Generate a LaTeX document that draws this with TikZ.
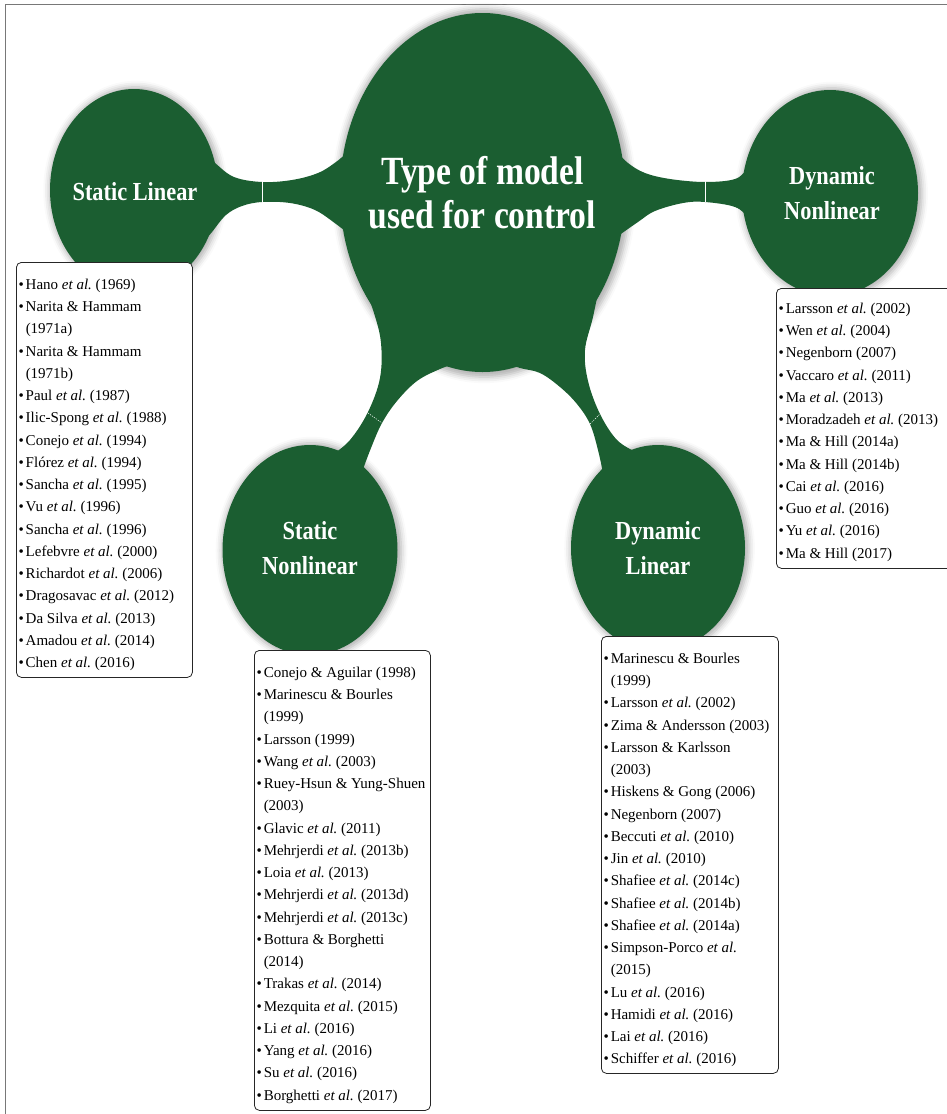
\documentclass[tikz,border=0pt]{standalone}
\usepackage{fontspec}
\setmainfont{Liberation Serif}
\newfontfamily\labelfont{Liberation Serif}[FakeStretch=0.86]
\newfontfamily\titlefont{Liberation Serif}[FakeStretch=0.84]
\usetikzlibrary{shapes.geometric,shadows.blur}
\definecolor{mygreen}{RGB}{27,94,49}
\definecolor{framegray}{RGB}{120,120,120}
\newcommand{\itemdot}{\strut\textbullet\hspace{1.8pt}}
\newcommand{\itemcont}{\strut\hphantom{\textbullet}\hspace{1.8pt}}
\frenchspacing
\tikzset{
  bubble/.style={ellipse, fill=mygreen, inner sep=0pt, text=white, align=center,
    blur shadow={shadow xshift=1.5pt, shadow yshift=-0.5pt, shadow blur radius=6pt, shadow opacity=32, shadow scale=1.025}},
  smalllabel/.style={font=\labelfont\bfseries\fontsize{26}{34.5}\selectfont},
  neck/.style={fill=mygreen},
  sep/.style={draw=white, line width=0.6pt},
  dsep/.style={draw=white, line width=0.5pt, dash pattern=on 1.2pt off 1.2pt},
  listbox/.style={draw=black!85, line width=0.8pt, rounded corners=5pt, fill=white, inner sep=0pt, anchor=north west},
  listtext/.style={anchor=north west, inner sep=0pt, align=left, font=\fontsize{15}{22.25}\selectfont},
}
\begin{document}
\begin{tikzpicture}[x=1pt, y=-1pt]
\useasboundingbox (0,0) rectangle (947,1114);
% frame
\draw[framegray, line width=0.8pt] (950,4) -- (5,4) -- (5,1120);

% bubbles
\node[bubble, minimum width=285pt, minimum height=359pt] (center) at (482.5,192.5) {};
\node[bubble, smalllabel, minimum width=168pt, minimum height=202pt] (sl) at (134,190) {};
\node[bubble, smalllabel, minimum width=176pt, minimum height=206pt] (dn) at (830,193) {};
\node[bubble, smalllabel, minimum width=175pt, minimum height=210pt] (sn) at (310,550) {};
\node[bubble, smalllabel, minimum width=174pt, minimum height=206pt] (dl) at (658,548) {};

% necks
\fill[neck] plot[smooth, tension=0.6] coordinates {(200,150) (215,163) (234,177) (262,182) (292,180) (318,173) (336,162) (350,150)}
  -- (365,195)
  -- plot[smooth, tension=0.6] coordinates {(350,235) (336,224) (315,210) (290,203) (262,202) (242,206) (226,215) (212,232) (205,240)}
  -- (190,195) -- cycle;
\fill[neck] plot[smooth, tension=0.6] coordinates {(615,150) (628,163) (645,173) (670,179) (705,182) (735,179) (748,168) (760,155)}
  -- (770,193)
  -- plot[smooth, tension=0.6] coordinates {(760,235) (748,218) (735,207) (705,202) (683,203) (655,211) (638,222) (618,236)}
  -- (605,193) -- cycle;
\fill[neck] plot[smooth, tension=0.6] coordinates {(362,280) (374,313) (381,343) (380,378) (368,412) (350,440) (332,455)}
  -- (320,480)
  -- plot[smooth, tension=0.6] coordinates {(362,472) (371,448) (382,423) (397,401) (417,381) (440,369) (460,362)}
  -- (400,320) -- cycle;
\fill[neck] plot[smooth, tension=0.6] coordinates {(505,362) (520,368) (540,373) (560,387) (577,404) (590,424) (598,450) (604,478)}
  -- (650,480)
  -- plot[smooth, tension=0.6] coordinates {(636,452) (617,440) (600,414) (588,381) (585,350) (593,317) (600,282)}
  -- (560,320) -- cycle;

% separators
\coordinate (lsa) at (262,182); \coordinate (lsb) at (262,202);
\coordinate (rsa) at (705,182); \coordinate (rsb) at (705,202);
\coordinate (lla) at (368,413); \coordinate (llb) at (382,423);
\coordinate (rla) at (590,424); \coordinate (rlb) at (600,414);
\draw[sep] (lsa) -- (lsb);
\draw[sep] (rsa) -- (rsb);
\draw[dsep] (lla) -- (llb);
\draw[dsep] (rla) -- (rlb);

% labels
\node[text=white, align=center, font=\titlefont\bfseries\fontsize{40}{44}\selectfont] (centerlabel) at (center) {Type of model\\used for control};
\node[text=white, smalllabel] (sllabel) at (135,192) {Static Linear};
\node[text=white, smalllabel, align=center] (dnlabel) at (832,193) {Dynamic\\Nonlinear};
\node[text=white, smalllabel, align=center] (snlabel) at (310,548) {Static\\Nonlinear};
\node[text=white, smalllabel, align=center] (dllabel) at (658,548) {Dynamic\\Linear};

% list boxes
\node[listbox, minimum width=176pt, minimum height=415pt] (slbox) at (16,262) {};
\node[listtext] (sltext) at (18.5,273.5) {%
\itemdot Hano \textit{et al.} (1969)\\
\itemdot Narita \& Hammam\\
\itemcont (1971a)\\
\itemdot Narita \& Hammam\\
\itemcont (1971b)\\
\itemdot Paul \textit{et al.} (1987)\\
\itemdot Ilic-Spong \textit{et al.} (1988)\\
\itemdot Conejo \textit{et al.} (1994)\\
\itemdot Flórez \textit{et al.} (1994)\\
\itemdot Sancha \textit{et al.} (1995)\\
\itemdot Vu \textit{et al.} (1996)\\
\itemdot Sancha \textit{et al.} (1996)\\
\itemdot Lefebvre \textit{et al.} (2000)\\
\itemdot Richardot \textit{et al.} (2006)\\
\itemdot Dragosavac \textit{et al.} (2012)\\
\itemdot Da Silva \textit{et al.} (2013)\\
\itemdot Amadou \textit{et al.} (2014)\\
\itemdot Chen \textit{et al.} (2016)};

\node[listbox, minimum width=176pt, minimum height=280pt] (dnbox) at (776,288) {};
\node[listtext] (dntext) at (778.5,297.5) {%
\itemdot Larsson \textit{et al.} (2002)\\
\itemdot Wen \textit{et al.} (2004)\\
\itemdot Negenborn (2007)\\
\itemdot Vaccaro \textit{et al.} (2011)\\
\itemdot Ma \textit{et al.} (2013)\\
\itemdot Moradzadeh \textit{et al.} (2013)\\
\itemdot Ma \& Hill (2014a)\\
\itemdot Ma \& Hill (2014b)\\
\itemdot Cai \textit{et al.} (2016)\\
\itemdot Guo \textit{et al.} (2016)\\
\itemdot Yu \textit{et al.} (2016)\\
\itemdot Ma \& Hill (2017)};

\node[listbox, minimum width=176pt, minimum height=460pt] (snbox) at (254,650) {};
\node[listtext] (sntext) at (256.5,661.5) {%
\itemdot Conejo \& Aguilar (1998)\\
\itemdot Marinescu \& Bourles\\
\itemcont (1999)\\
\itemdot Larsson (1999)\\
\itemdot Wang \textit{et al.} (2003)\\
\itemdot Ruey-Hsun \& Yung-Shuen\\
\itemcont (2003)\\
\itemdot Glavic \textit{et al.} (2011)\\
\itemdot Mehrjerdi \textit{et al.} (2013b)\\
\itemdot Loia \textit{et al.} (2013)\\
\itemdot Mehrjerdi \textit{et al.} (2013d)\\
\itemdot Mehrjerdi \textit{et al.} (2013c)\\
\itemdot Bottura \& Borghetti\\
\itemcont (2014)\\
\itemdot Trakas \textit{et al.} (2014)\\
\itemdot Mezquita \textit{et al.} (2015)\\
\itemdot Li \textit{et al.} (2016)\\
\itemdot Yang \textit{et al.} (2016)\\
\itemdot Su \textit{et al.} (2016)\\
\itemdot Borghetti \textit{et al.} (2017)};

\node[listbox, minimum width=177pt, minimum height=437pt] (dlbox) at (601,636) {};
\node[listtext] (dltext) at (603.5,647.5) {%
\itemdot Marinescu \& Bourles\\
\itemcont (1999)\\
\itemdot Larsson \textit{et al.} (2002)\\
\itemdot Zima \& Andersson (2003)\\
\itemdot Larsson \& Karlsson\\
\itemcont (2003)\\
\itemdot Hiskens \& Gong (2006)\\
\itemdot Negenborn (2007)\\
\itemdot Beccuti \textit{et al.} (2010)\\
\itemdot Jin \textit{et al.} (2010)\\
\itemdot Shafiee \textit{et al.} (2014c)\\
\itemdot Shafiee \textit{et al.} (2014b)\\
\itemdot Shafiee \textit{et al.} (2014a)\\
\itemdot Simpson-Porco \textit{et al.}\\
\itemcont (2015)\\
\itemdot Lu \textit{et al.} (2016)\\
\itemdot Hamidi \textit{et al.} (2016)\\
\itemdot Lai \textit{et al.} (2016)\\
\itemdot Schiffer \textit{et al.} (2016)};
\end{tikzpicture}
\end{document}
